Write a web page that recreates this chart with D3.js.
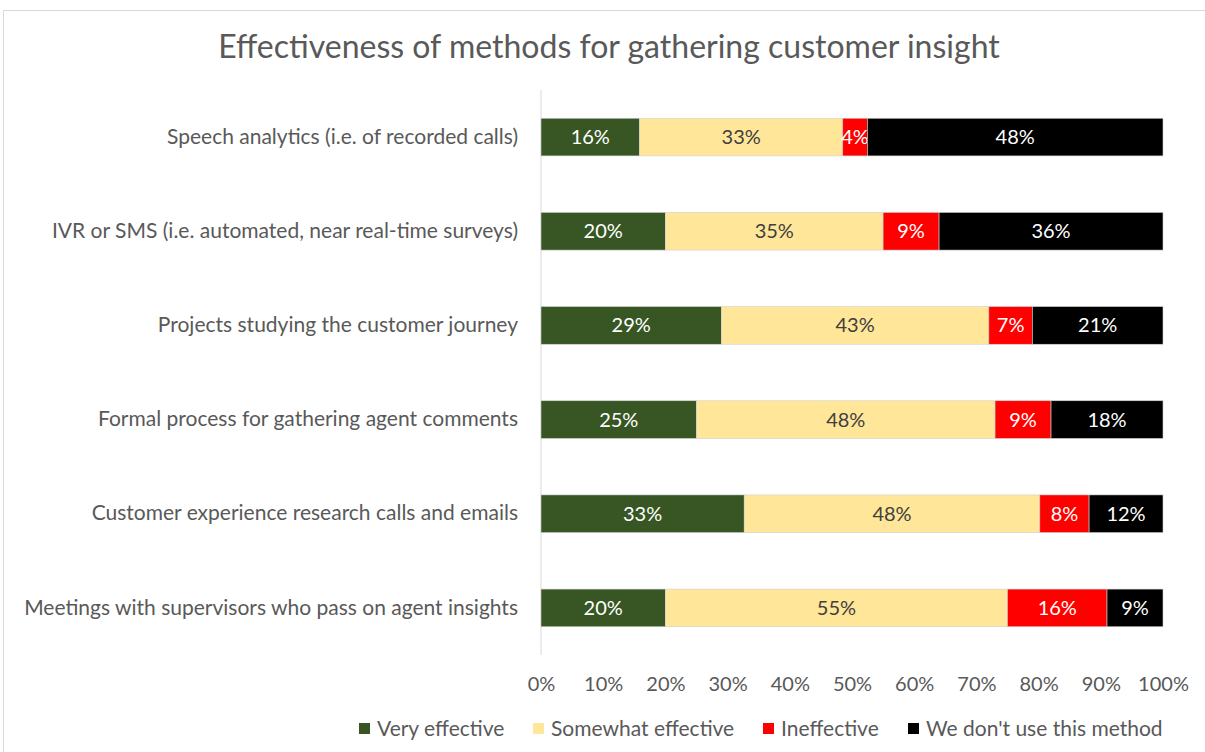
<!DOCTYPE html>
<html><head><meta charset="utf-8">
<script src="https://cdn.jsdelivr.net/npm/d3@7"></script>
<style>
html,body{margin:0;padding:0;background:#fff;}
svg{display:block;font-family:Lato, "Open Sans", sans-serif;}
</style></head>
<body>
<svg id="chart" width="1205" height="752"></svg>
<script>
const categories = [
  "Speech analytics (i.e. of recorded calls)",
  "IVR or SMS (i.e. automated, near real-time surveys)",
  "Projects studying the customer journey",
  "Formal process for gathering agent comments",
  "Customer experience research calls and emails",
  "Meetings with supervisors who pass on agent insights"
];
const seriesNames = ["Very effective", "Somewhat effective", "Ineffective", "We don't use this method"];
const veryEffective = [16, 20, 29, 25, 33, 20];
const somewhatEffective = [33, 35, 43, 48, 48, 55];
const ineffective = [4, 9, 7, 9, 8, 16];
const notUsed = [48, 36, 21, 18, 12, 9];
const tickValues = [0, 0.1, 0.2, 0.3, 0.4, 0.5, 0.6, 0.7, 0.8, 0.9, 1.0];
const colors = ["#375623", "#FFE699", "#FF0000", "#000000"];
const labelColors = ["#ffffff", "#404040", "#ffffff", "#ffffff"];

const seriesArrays = [veryEffective, somewhatEffective, ineffective, notUsed];
const rows = categories.map((c, i) => {
  const r = {category: c};
  seriesNames.forEach((s, j) => r[s] = seriesArrays[j][i]);
  return r;
});

const svg = d3.select("#chart");
svg.append("rect").attr("x", 3.5).attr("y", 10.5).attr("width", 1215).attr("height", 800)
  .attr("fill", "#fff").attr("stroke", "#d9d9d9");

svg.append("text").attr("x", 609).attr("y", 58).attr("text-anchor", "middle")
  .attr("fill", "#595959").style("font-size", "32px").text("Effectiveness of methods for gathering customer insight");

const x = d3.scaleLinear().domain([0, 1]).range([541, 1163]);
const y = d3.scaleBand().domain(categories).range([90, 655]).paddingInner(0.6).paddingOuter(0.3);

const stack = d3.stack().keys(seriesNames).offset(d3.stackOffsetExpand);
const stacked = stack(rows);

// axis line
svg.append("line").attr("x1", 541).attr("x2", 541).attr("y1", 90).attr("y2", 655)
  .attr("stroke", "#d9d9d9").attr("stroke-width", 1);

const g = svg.append("g");
stacked.forEach((layer, j) => {
  const lg = g.append("g");
  lg.selectAll("rect").data(layer).join("rect")
    .attr("x", d => x(d[0]))
    .attr("y", d => y(d.data.category))
    .attr("width", d => x(d[1]) - x(d[0]))
    .attr("height", y.bandwidth())
    .attr("fill", colors[j])
    .attr("stroke", "#d0d0d0").attr("stroke-width", 0.6);
  lg.selectAll("text").data(layer).join("text")
    .attr("x", d => (x(d[0]) + x(d[1])) / 2)
    .attr("y", d => y(d.data.category) + y.bandwidth() / 2)
    .attr("dy", "0.35em")
    .attr("text-anchor", "middle")
    .attr("fill", labelColors[j])
    .style("font-size", "20px")
    .text(d => d.data[layer.key] + "%");
});

// category labels
const yAxis = d3.axisLeft(y).tickSize(0).tickPadding(23);
const ya = svg.append("g").attr("transform", "translate(541,0)").call(yAxis);
ya.select(".domain").remove();
ya.selectAll("text").attr("fill", "#595959").style("font-size", "21px").style("font-family", "Lato, sans-serif");

const xAxis = d3.axisBottom(x).tickValues(tickValues).tickFormat(d3.format(".0%")).tickSize(0).tickPadding(22);
const xa = svg.append("g").attr("transform", "translate(0,655)").call(xAxis);
xa.select(".domain").remove();
xa.selectAll("text").attr("fill", "#595959").style("font-size", "20px").style("font-family", "Lato, sans-serif");

// legend
const legendX = [359, 533, 763, 908];
const legend = svg.append("g");
seriesNames.forEach((s, j) => {
  legend.append("rect").attr("x", legendX[j]).attr("y", 723).attr("width", 11).attr("height", 11).attr("fill", colors[j]);
  legend.append("text").attr("x", legendX[j] + 18).attr("y", 729).attr("dy", "0.35em")
    .attr("fill", "#595959").style("font-size", "21px").text(s);
});
</script>
</body></html>
